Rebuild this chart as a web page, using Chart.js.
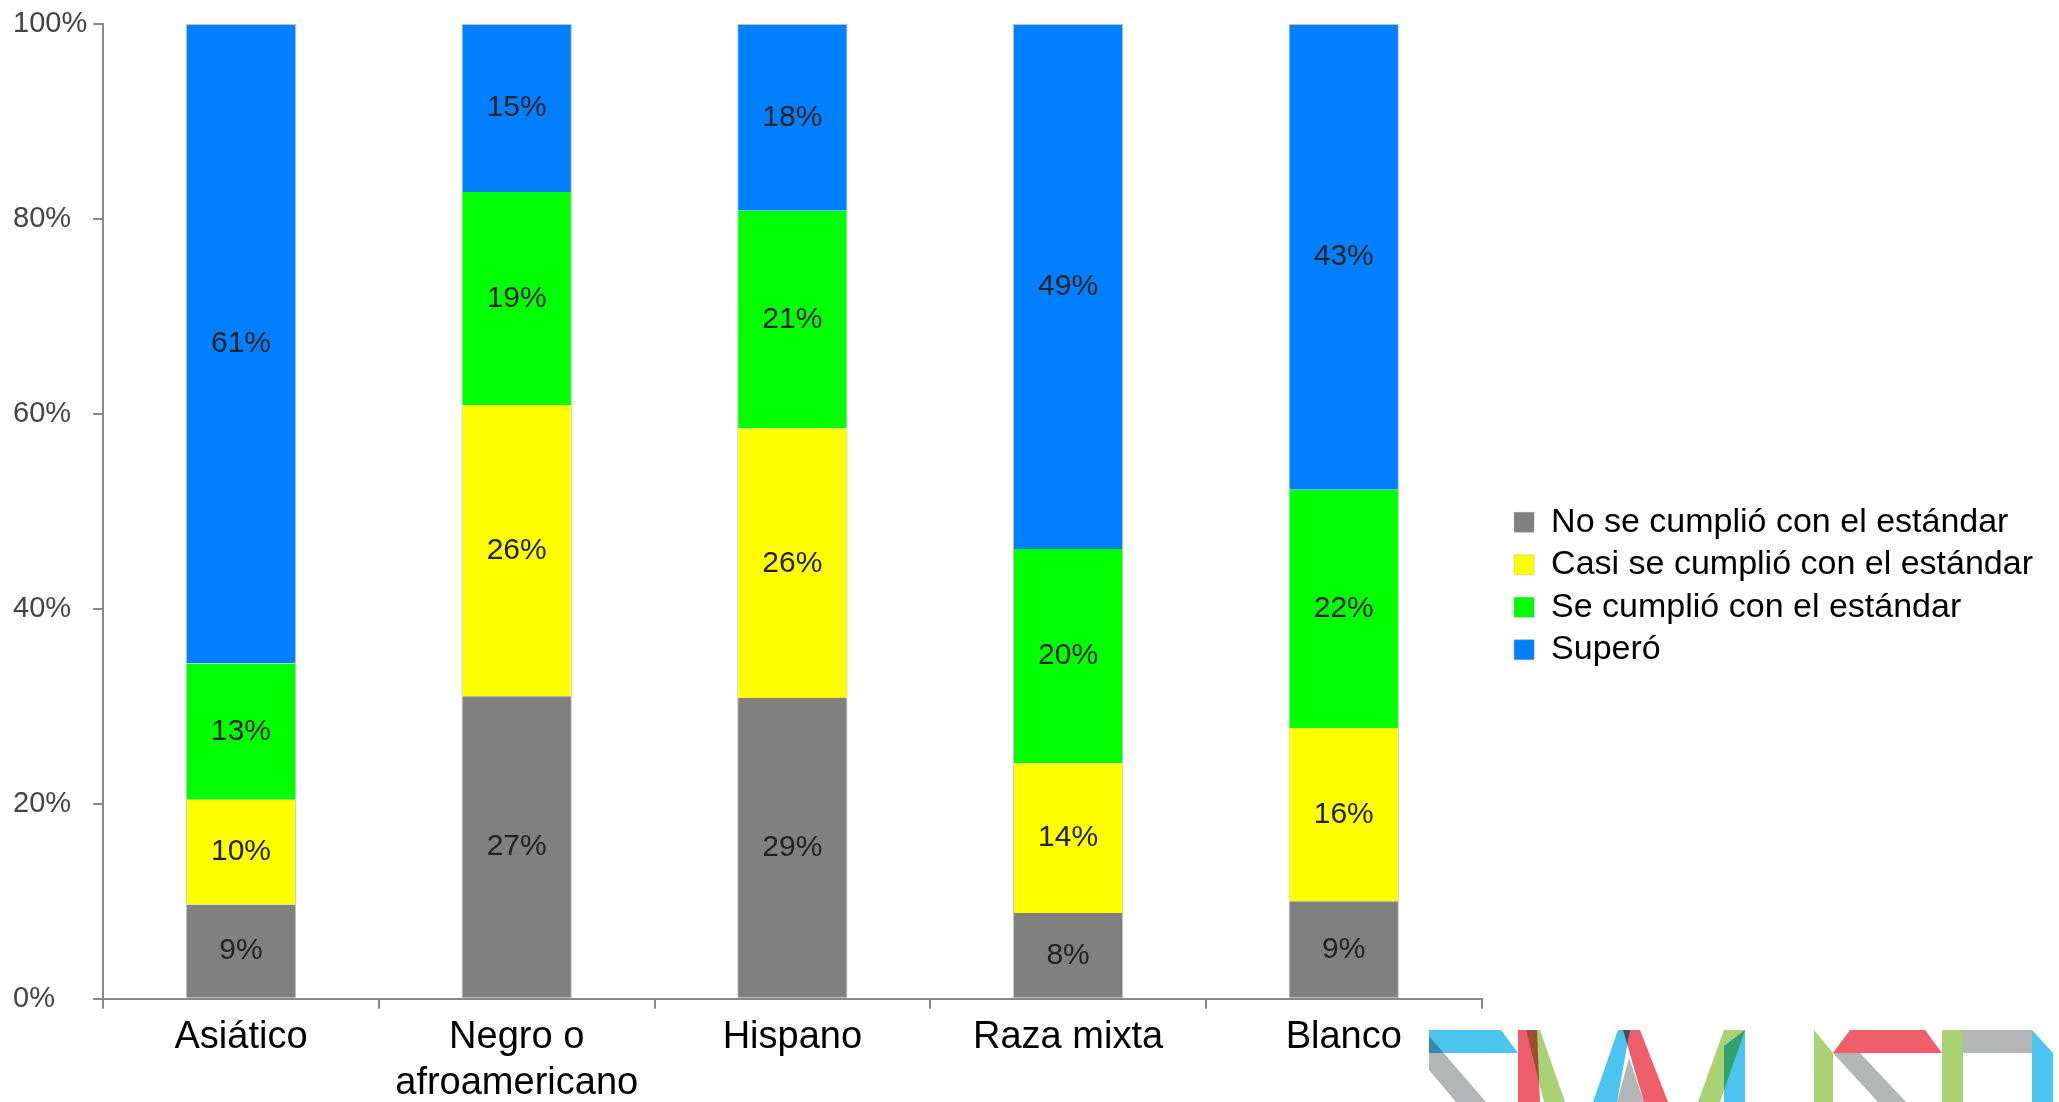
<!DOCTYPE html>
<html>
<head>
<meta charset="utf-8">
<script src="https://cdn.jsdelivr.net/npm/chart.js@4.4.1/dist/chart.umd.min.js"></script>
<style>
  html, body { margin: 0; padding: 0; background: #fff; overflow: hidden; }
  #wrap { width: 2059px; height: 1102px; position: relative; }
</style>
</head>
<body>
<div id="wrap"><canvas id="chart"></canvas></div>
<script>
// categories and series (values as printed on the bars, in %)
const categories = ["Asiático", ["Negro o", "afroamericano"], "Hispano", "Raza mixta", "Blanco"];
const seriesNames = ["No se cumplió con el estándar", "Casi se cumplió con el estándar", "Se cumplió con el estándar", "Superó"];
const noCumplio = [9, 27, 29, 8, 9];
const casiCumplio = [10, 26, 26, 14, 16];
const cumplio = [13, 19, 21, 20, 22];
const supero = [61, 15, 18, 49, 43];
const yTickStep = 20;

const seriesValues = [noCumplio, casiCumplio, cumplio, supero];
const seriesColors = ["#808080", "#FFFF00", "#00FF00", "#0080FF"];

// bars are stacked to 100% of each category's total
const totals = categories.map((c, j) => seriesValues.reduce((s, arr) => s + arr[j], 0));
const shares = seriesValues.map(arr => arr.map((v, j) => v / totals[j] * 100));

Chart.defaults.font.family = "'Liberation Sans', Arial, sans-serif";

// write the printed value in the middle of each segment
const valueLabels = {
    id: "valueLabels",
    afterDatasetsDraw(chart) {
        const ctx = chart.ctx;
        ctx.save();
        ctx.font = "30px 'Liberation Sans', Arial, sans-serif";
        ctx.fillStyle = "#222";
        ctx.textAlign = "center";
        ctx.textBaseline = "middle";
        chart.data.datasets.forEach((ds, i) => {
            chart.getDatasetMeta(i).data.forEach((bar, j) => {
                const p = bar.getProps(["x", "y", "base"], true);
                ctx.fillText(seriesValues[i][j] + "%", p.x, (p.y + p.base) / 2);
            });
        });
        ctx.restore();
    }
};

// nudge the legend a bit away from the plot
const legendNudge = {
    id: "legendNudge",
    afterLayout(chart) {
        const l = chart.legend;
        l.left += 24; l.right += 24;
        l.top += 23; l.bottom += 23;
    }
};

// the coloured ribbon logo cut off in the bottom-right corner
const cornerLogo = {
    id: "cornerLogo",
    afterDraw(chart) {
        const ctx = chart.ctx;
        const blue = "#4DC4EF", gray = "#B4B5B7", red = "#EF5F6B", green = "#A8D274";
        const shapes = [
            [gray, [[1429, 1036], [1486, 1102], [1456, 1102], [1429, 1070]]],
            [blue, [[1429, 1030], [1501, 1030], [1518, 1053], [1429, 1053]]],
            [red, [[1518, 1030], [1537, 1030], [1540, 1102], [1518, 1102]]],
            [green, [[1526, 1030], [1540, 1030], [1565, 1102], [1544, 1102]]],
            [gray, [[1629, 1058], [1644, 1102], [1617, 1102]]],
            [blue, [[1618, 1030], [1630, 1030], [1617, 1102], [1593, 1102]]],
            [red, [[1623, 1030], [1640, 1030], [1668, 1102], [1644, 1102]]],
            [blue, [[1724, 1046], [1745, 1030], [1745, 1102], [1724, 1102]]],
            [green, [[1724, 1030], [1745, 1030], [1720, 1102], [1698, 1102]]],
            [gray, [[1833, 1053], [1860, 1053], [1906, 1102], [1878, 1102]]],
            [green, [[1814, 1030], [1833, 1053], [1833, 1102], [1814, 1102]]],
            [red, [[1850, 1030], [1925, 1030], [1942, 1053], [1833, 1053]]],
            [gray, [[1963, 1030], [2032, 1030], [2032, 1053], [1963, 1053]]],
            [green, [[1942, 1030], [1963, 1030], [1963, 1102], [1942, 1102]]],
            [blue, [[2032, 1030], [2053, 1053], [2053, 1102], [2032, 1102]]]
        ];
        ctx.save();
        ctx.globalCompositeOperation = "multiply";
        shapes.forEach(([color, pts]) => {
            ctx.beginPath();
            pts.forEach(([x, y], k) => k ? ctx.lineTo(x, y) : ctx.moveTo(x, y));
            ctx.closePath();
            ctx.fillStyle = color;
            ctx.fill();
        });
        ctx.restore();
    }
};

new Chart(document.getElementById("chart"), {
    type: "bar",
    data: {
        labels: categories,
        datasets: seriesNames.map((name, i) => ({
            label: name,
            data: shares[i],
            backgroundColor: seriesColors[i],
            borderColor: "rgba(150,150,150,0.6)",
            borderWidth: {left: 1, right: 1, top: i === 3 ? 1 : 0, bottom: 0},
            borderSkipped: false,
            categoryPercentage: 1,
            barPercentage: 0.4
        }))
    },
    options: {
        responsive: true,
        maintainAspectRatio: false,
        animation: false,
        layout: { padding: { left: 13, top: 24, right: 40, bottom: 0 } },
        plugins: {
            tooltip: { enabled: false },
            legend: {
                position: "right",
                align: "center",
                maxWidth: 700,
                labels: {
                    boxWidth: 20,
                    boxHeight: 20,
                    padding: 8.5,
                    color: "#000",
                    font: { size: 34 }
                }
            }
        },
        scales: {
            x: {
                stacked: true,
                offset: true,
                grid: { display: true, drawOnChartArea: false, offset: true, tickLength: 10, color: "#888", lineWidth: 2 },
                border: { color: "#888", width: 2 },
                ticks: { color: "#000", font: { size: 38 }, padding: 6, maxRotation: 0, autoSkip: false },
                // let the second label line run to the bottom edge
                afterFit: scale => { scale.height -= 10; }
            },
            y: {
                stacked: true,
                min: 0,
                max: 100,
                grid: { drawOnChartArea: false, tickLength: 10, color: "#888", lineWidth: 2 },
                border: { color: "#888", width: 2 },
                ticks: {
                    stepSize: yTickStep,
                    crossAlign: "far",
                    padding: 3,
                    color: "#444",
                    font: { size: 29 },
                    callback: v => v + "%"
                }
            }
        }
    },
    plugins: [valueLabels, legendNudge, cornerLogo]
});
</script>
</body>
</html>
